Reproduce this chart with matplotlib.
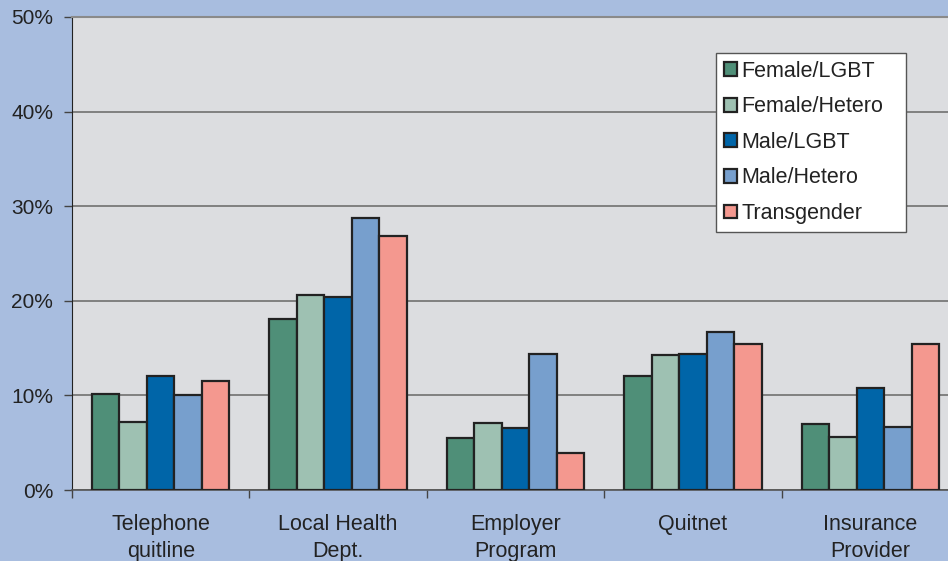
import numpy as np
import matplotlib.pyplot as plt

plt.rcParams['font.family'] = ['Liberation Sans', 'DejaVu Sans']

categories = ['Telephone\nquitline', 'Local Health\nDept.', 'Employer\nProgram', 'Quitnet', 'Insurance\nProvider']
series = ['Female/LGBT', 'Female/Hetero', 'Male/LGBT', 'Male/Hetero', 'Transgender']
female_lgbt = [10.1, 18.1, 5.5, 12.1, 7.0]
female_hetero = [7.2, 20.6, 7.1, 14.3, 5.6]
male_lgbt = [12.0, 20.4, 6.6, 14.4, 10.8]
male_hetero = [10.0, 28.8, 14.4, 16.7, 6.7]
transgender = [11.5, 26.9, 3.9, 15.4, 15.4]
values = [female_lgbt, female_hetero, male_lgbt, male_hetero, transgender]
colors = ['#4f8f78', '#9ec1b2', '#0065a8', '#779fcd', '#f4988f']

fig = plt.figure(figsize=(9.48, 5.61), dpi=100, facecolor='#a8bddf')
ax = fig.add_axes([72/948, 71/561, 887/948, 473/561])
ax.set_facecolor('#dcdde0')

x = np.arange(len(categories))
w = 0.155
for i, (name, vals) in enumerate(zip(series, values)):
    ax.bar(x + (i - 2) * w, vals, w, color=colors[i], edgecolor='#222222',
           linewidth=1.6, label=name, zorder=3)

ax.set_xlim(-0.5, len(categories) - 0.5)
ax.set_ylim(0, 50)
ax.set_yticks(range(0, 51, 10))
ax.set_yticklabels([f'{v}%' for v in range(0, 51, 10)])
ax.yaxis.grid(True, color='#707070', linewidth=1.2, zorder=0)
ax.set_xticks(x)
ax.set_xticklabels(categories)
ax.set_xticks(np.arange(len(categories) + 1) - 0.5, minor=True)
ax.tick_params(axis='x', which='major', length=0, pad=17, labelsize=15.5, colors='#222222')
ax.tick_params(axis='x', which='minor', length=6, width=1, color='#444444', direction='out')
ax.tick_params(axis='y', length=6, width=1, color='#444444', labelsize=15, labelcolor='#222222', pad=7.5)
for lbl in ax.get_xticklabels():
    lbl.set_linespacing(1.42)

ax.spines['top'].set_color('#8a8a8a')
ax.spines['top'].set_linewidth(1.5)
ax.spines['right'].set_visible(False)
ax.spines['left'].set_color('#222222')
ax.spines['bottom'].set_color('#555555')
ax.spines['bottom'].set_linewidth(1.2)

leg = ax.legend(loc='upper left', bbox_to_anchor=(716/948, 1 - 53/561 - 177/561, 190/948, 177/561),
                bbox_transform=fig.transFigure, mode='expand', fontsize=15.5, frameon=True,
                fancybox=False, edgecolor='#555555', framealpha=1,
                handlelength=0.62, handleheight=0.62, handletextpad=0.2,
                labelspacing=0.68, borderpad=0.35, borderaxespad=0)
leg.get_frame().set_linewidth(1)
for t in leg.get_texts():
    t.set_color('#222222')

fig.savefig('out.png', dpi=100, facecolor=fig.get_facecolor())
